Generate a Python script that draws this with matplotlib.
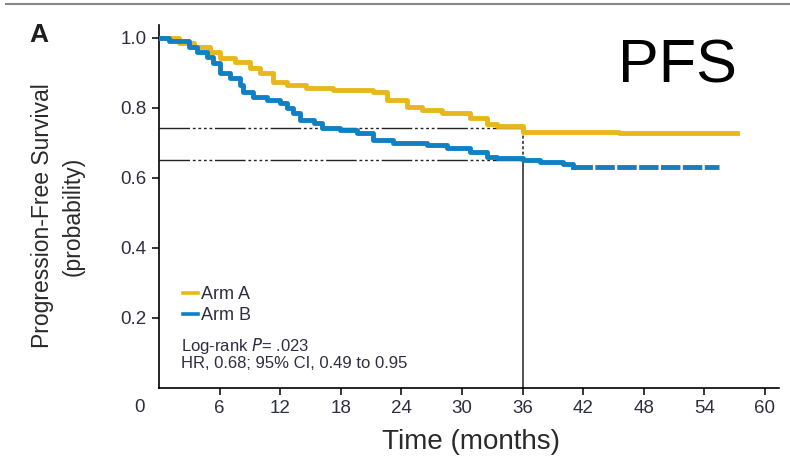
import matplotlib
matplotlib.use('Agg')
import matplotlib.pyplot as plt
from matplotlib.lines import Line2D

plt.rcParams['font.family'] = ['Liberation Sans', 'DejaVu Sans']

# Arm A (yellow) Kaplan-Meier steps
t_a = [0, 2.0, 3.5, 5.0, 6.0, 7.5, 9.0, 10.0, 11.3, 12.7, 14.6, 17.2, 21.2, 22.6,
       24.6, 26.0, 28.0, 30.8, 32.5, 33.5, 36.0, 45.6, 57.2]
s_a = [1.0, 0.985, 0.975, 0.96, 0.943, 0.93, 0.914, 0.90, 0.874, 0.866, 0.857, 0.851,
       0.846, 0.823, 0.803, 0.794, 0.786, 0.771, 0.754, 0.749, 0.731, 0.727, 0.727]

# Arm B (blue)
t_b = [0, 1.0, 3.0, 3.8, 4.8, 5.3, 6.0, 7.0, 8.0, 8.3, 9.3, 10.7, 12.0, 12.7, 13.3,
       14.0, 15.3, 16.1, 17.9, 19.6, 21.2, 23.2, 26.5, 28.5, 30.8, 32.5, 33.5, 36.0,
       37.7, 40.0, 41.0, 55.5]
s_b = [1.0, 0.99, 0.974, 0.96, 0.946, 0.929, 0.90, 0.886, 0.866, 0.846, 0.831, 0.823,
       0.814, 0.80, 0.786, 0.766, 0.757, 0.743, 0.737, 0.729, 0.709, 0.70, 0.694, 0.686,
       0.674, 0.66, 0.656, 0.651, 0.646, 0.641, 0.632, 0.632]

# 36-month landmark values
landmark_t = 36
landmark_a = 0.743
landmark_b = 0.651

x_ticks = [6, 12, 18, 24, 30, 36, 42, 48, 54, 60]
y_ticks = [0.2, 0.4, 0.6, 0.8, 1.0]

col_a = '#E8B71E'
col_b = '#1080C4'
txt_col = '#2e2e40'

fig = plt.figure(figsize=(7.9, 4.61), dpi=100)
ax = fig.add_axes([0.2013, 0.1584, 0.7848, 0.7874])

# reference lines
ref_style = (0, (22, 2, 2, 2, 2, 2, 2, 2, 2, 2))
ax.plot([0, landmark_t], [landmark_a, landmark_a], color='#222222', lw=1.0, ls=ref_style, zorder=1)
ax.plot([0, landmark_t], [landmark_b, landmark_b], color='#222222', lw=1.0, ls=ref_style, zorder=1)
ax.plot([landmark_t, landmark_t], [0, landmark_b], color='#222222', lw=1.1, zorder=1)
ax.plot([landmark_t, landmark_t], [landmark_b, landmark_a], color='#222222', lw=1.1, ls=(0, (2, 1.5)), zorder=1)

ax.step(t_a, s_a, where='post', color=col_a, lw=3.5, label='Arm A', zorder=3)
k = t_b.index(41.0)
ax.step(t_b[:k + 1], s_b[:k + 1], where='post', color=col_b, lw=3.5, label='Arm B', zorder=3)
ax.step(t_b[k:], s_b[k:], where='post', color=col_b, lw=3.5, ls=(0, (4, 0.5)), zorder=3)

ax.set_xlim(0, 61.4)
ax.set_ylim(0, 1.037)
ax.set_xticks(x_ticks)
ax.set_yticks(y_ticks)
ax.set_yticklabels(['%.1f' % v for v in y_ticks])
ax.tick_params(axis='both', direction='out', length=5, width=1.1, labelsize=13.5,
               labelcolor=txt_col, pad=4)
for s in ['top', 'right']:
    ax.spines[s].set_visible(False)
for s in ['left', 'bottom']:
    ax.spines[s].set_linewidth(1.2)

fig.text(139.5 / 790, 1 - 407 / 461, '0', ha='center', va='center', fontsize=13.5, color=txt_col)

fig.text(471 / 790, 1 - 442 / 461, 'Time (months)', ha='center', va='center',
         fontsize=20, color='#2a2a2a')
fig.text(58 / 790, 1 - 216 / 461, 'Progression-Free Survival\n(probability)', rotation=90,
         ha='center', va='center', fontsize=16.5, color='#2a2a2a', linespacing=1.45)

leg = ax.legend(loc='center left', bbox_to_anchor=(0.013, 0.228), frameon=False,
                handlelength=0.8, handletextpad=0.2, labelspacing=0.2,
                prop={'size': 13})
for t in leg.get_texts():
    t.set_color(txt_col)
for h in leg.get_lines():
    h.set_linewidth(2.6)

ax.text(22 / 620, (388 - 346) / 363, 'Log-rank $\\it{P}$= .023', transform=ax.transAxes,
        fontsize=12, color=txt_col, va='center')
ax.text(22 / 620, (388 - 364) / 363, 'HR, 0.68; 95% CI, 0.49 to 0.95', transform=ax.transAxes,
        fontsize=12, color=txt_col, va='center')

fig.text(38.5 / 790, 1 - 35 / 461, 'A', ha='center', va='center', fontsize=19, fontweight='bold',
         color='#1e1e1e')
fig.text(677 / 790, 1 - 67 / 461, 'PFS', ha='center', va='center', fontsize=44, color='black')

fig.add_artist(Line2D([6 / 790, 1], [1 - 4 / 461, 1 - 4 / 461], color='#888888', lw=1.5))

fig.savefig('out.png', dpi=100)
